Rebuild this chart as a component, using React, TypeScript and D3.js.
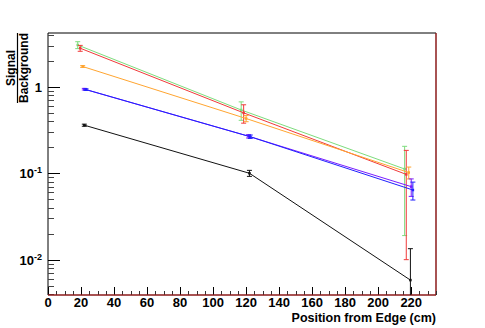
import React, { useEffect, useRef } from 'react';
import * as d3 from 'd3';

// series: x positions (cm), signal/background, symmetric error
const greenX = [18, 117, 216];
const greenY = [3.05, 0.54, 0.112];
const greenErr = [0.28, 0.13, 0.093];

const redX = [19.5, 118.5, 217];
const redY = [2.8, 0.5, 0.097];
const redErr = [0.22, 0.12, 0.087];

const orangeX = [21, 120, 218.5];
const orangeY = [1.72, 0.43, 0.102];
const orangeErr = [0.04, 0.035, 0.016];

const violetX = [22, 121.5, 220];
const violetY = [0.94, 0.268, 0.07];
const violetErr = [0.02, 0.012, 0.016];

const blueX = [23, 122.5, 221];
const blueY = [0.93, 0.265, 0.064];
const blueErr = [0.02, 0.012, 0.015];

const blackX = [22, 122, 219.5];
const blackY = [0.36, 0.1, 0.0058];
const blackErr = [0.01, 0.008, 0.0076];

const xTicks = [0, 20, 40, 60, 80, 100, 120, 140, 160, 180, 200, 220];
const yMajor = [1, 0.1, 0.01];
const yMajorLabels = [['1', ''], ['10', '-1'], ['10', '-2']];

const series = [
  { x: greenX, y: greenY, err: greenErr, color: '#7ddc7d' },
  { x: redX, y: redY, err: redErr, color: '#f03a3a' },
  { x: orangeX, y: orangeY, err: orangeErr, color: '#ffa530' },
  { x: violetX, y: violetY, err: violetErr, color: '#7a1cff' },
  { x: blueX, y: blueY, err: blueErr, color: '#2020ff' },
  { x: blackX, y: blackY, err: blackErr, color: '#111111' },
];

const App = () => {
  const svgRef = useRef<SVGSVGElement>(null);

  useEffect(() => {
    document.body.style.margin = '0';
    const svg = d3.select(svgRef.current);
    svg.selectAll('*').remove();

    const left = 48, right = 436, top = 33, bottom = 295;
    const font = '"Liberation Sans", Arial, sans-serif';

    const x = d3.scaleLinear().domain([0, 235]).range([left, right]);
    const y = d3.scaleLog().domain([0.0039, 4.2]).range([bottom, top]);

    svg.append('defs').append('clipPath').attr('id', 'frame')
      .append('rect').attr('x', left).attr('y', top)
      .attr('width', right - left).attr('height', bottom - top);

    // frame
    svg.append('line').attr('x1', left).attr('x2', right).attr('y1', top).attr('y2', top)
      .attr('stroke', '#000');
    svg.append('line').attr('x1', left).attr('x2', left).attr('y1', top).attr('y2', bottom)
      .attr('stroke', '#000');
    svg.append('line').attr('x1', right).attr('x2', right).attr('y1', top).attr('y2', bottom)
      .attr('stroke', '#8b1a1a').attr('stroke-width', 1.5);

    // y ticks
    const yMinor: number[] = [];
    [0.001, 0.01, 0.1, 1].forEach(dec => {
      for (let k = 2; k <= 9; k++) {
        const v = dec * k;
        if (v > 0.0039 && v < 4.2) yMinor.push(v);
      }
    });
    svg.append('g').selectAll('line').data(yMinor).enter().append('line')
      .attr('x1', left).attr('x2', left + 6)
      .attr('y1', d => Math.round(y(d)) + 0.5).attr('y2', d => Math.round(y(d)) + 0.5)
      .attr('stroke', '#444');
    svg.append('g').selectAll('line').data(yMajor).enter().append('line')
      .attr('x1', left).attr('x2', left + 12)
      .attr('y1', d => Math.round(y(d)) + 0.5).attr('y2', d => Math.round(y(d)) + 0.5)
      .attr('stroke', '#000');
    const yl = svg.append('g').selectAll('text').data(yMajor).enter().append('text')
      .attr('x', left - 6).attr('y', d => y(d) + 5)
      .attr('text-anchor', 'end')
      .style('font-family', font).style('font-weight', 'bold').style('font-size', '13px');
    yl.append('tspan').text((d, i) => yMajorLabels[i][0]);
    yl.append('tspan').attr('dy', -5).style('font-size', '9px').text((d, i) => yMajorLabels[i][1]);

    // x ticks
    const xMinor = d3.range(0, 236, 5).filter(v => v % 20 !== 0);
    svg.append('g').selectAll('line').data(xMinor).enter().append('line')
      .attr('x1', d => Math.round(x(d)) + 0.5).attr('x2', d => Math.round(x(d)) + 0.5)
      .attr('y1', bottom).attr('y2', bottom - 4)
      .attr('stroke', '#333');
    svg.append('g').selectAll('line').data(xTicks).enter().append('line')
      .attr('x1', d => Math.round(x(d)) + 0.5).attr('x2', d => Math.round(x(d)) + 0.5)
      .attr('y1', bottom).attr('y2', bottom - 8)
      .attr('stroke', '#000');
    svg.append('g').selectAll('text').data(xTicks).enter().append('text')
      .attr('x', d => x(d)).attr('y', bottom + 12)
      .attr('text-anchor', 'middle')
      .style('font-family', font).style('font-weight', 'bold').style('font-size', '13px')
      .text(d => d);

    svg.append('line').attr('x1', left).attr('x2', right).attr('y1', bottom).attr('y2', bottom)
      .attr('stroke', '#8b1a1a').attr('stroke-width', 1.5);

    // axis titles
    svg.append('text').attr('x', right).attr('y', 322)
      .attr('text-anchor', 'end')
      .style('font-family', font).style('font-weight', 'bold').style('font-size', '12.5px')
      .text('Position from Edge (cm)');

    const yt = svg.append('g').attr('transform', 'translate(0,68) rotate(-90)');
    yt.append('text').attr('x', 0).attr('y', 15).attr('text-anchor', 'middle')
      .style('font-family', font).style('font-weight', 'bold').style('font-size', '12px')
      .text('Signal');
    yt.append('line').attr('x1', -35).attr('x2', 35).attr('y1', 17.5).attr('y2', 17.5)
      .attr('stroke', '#000').attr('stroke-width', 1.2);
    yt.append('text').attr('x', 0).attr('y', 28).attr('text-anchor', 'middle')
      .style('font-family', font).style('font-weight', 'bold').style('font-size', '12px')
      .text('Background');

    // data
    const plot = svg.append('g').attr('clip-path', 'url(#frame)');
    series.forEach(s => {
      const pts = s.x.map((v, i) => ({ x: v, y: s.y[i], e: s.err[i] }));
      plot.append('path')
        .attr('d', d3.line<any>().x(d => x(d.x)).y(d => y(d.y))(pts))
        .attr('fill', 'none').attr('stroke', s.color).attr('stroke-width', 1);
      const g = plot.append('g').selectAll('g').data(pts).enter().append('g');
      const lo = (d: any) => y(Math.max(d.y - d.e, 1e-4));
      const hi = (d: any) => y(d.y + d.e);
      g.append('line')
        .attr('x1', d => x(d.x)).attr('x2', d => x(d.x))
        .attr('y1', lo).attr('y2', hi)
        .attr('stroke', s.color).attr('stroke-width', 1);
      g.append('line')
        .attr('x1', d => x(d.x) - 2.5).attr('x2', d => x(d.x) + 2.5)
        .attr('y1', hi).attr('y2', hi)
        .attr('stroke', s.color);
      g.append('line')
        .attr('x1', d => x(d.x) - 2.5).attr('x2', d => x(d.x) + 2.5)
        .attr('y1', lo).attr('y2', lo)
        .attr('stroke', s.color);
      g.append('rect')
        .attr('x', d => x(d.x) - 1.25).attr('y', d => y(d.y) - 1.25)
        .attr('width', 2.5).attr('height', 2.5)
        .attr('fill', s.color);
    });
  }, []);

  return <svg ref={svgRef} width={485} height={328} style={{ display: 'block', background: '#fff' }} />;
};

export default App;
